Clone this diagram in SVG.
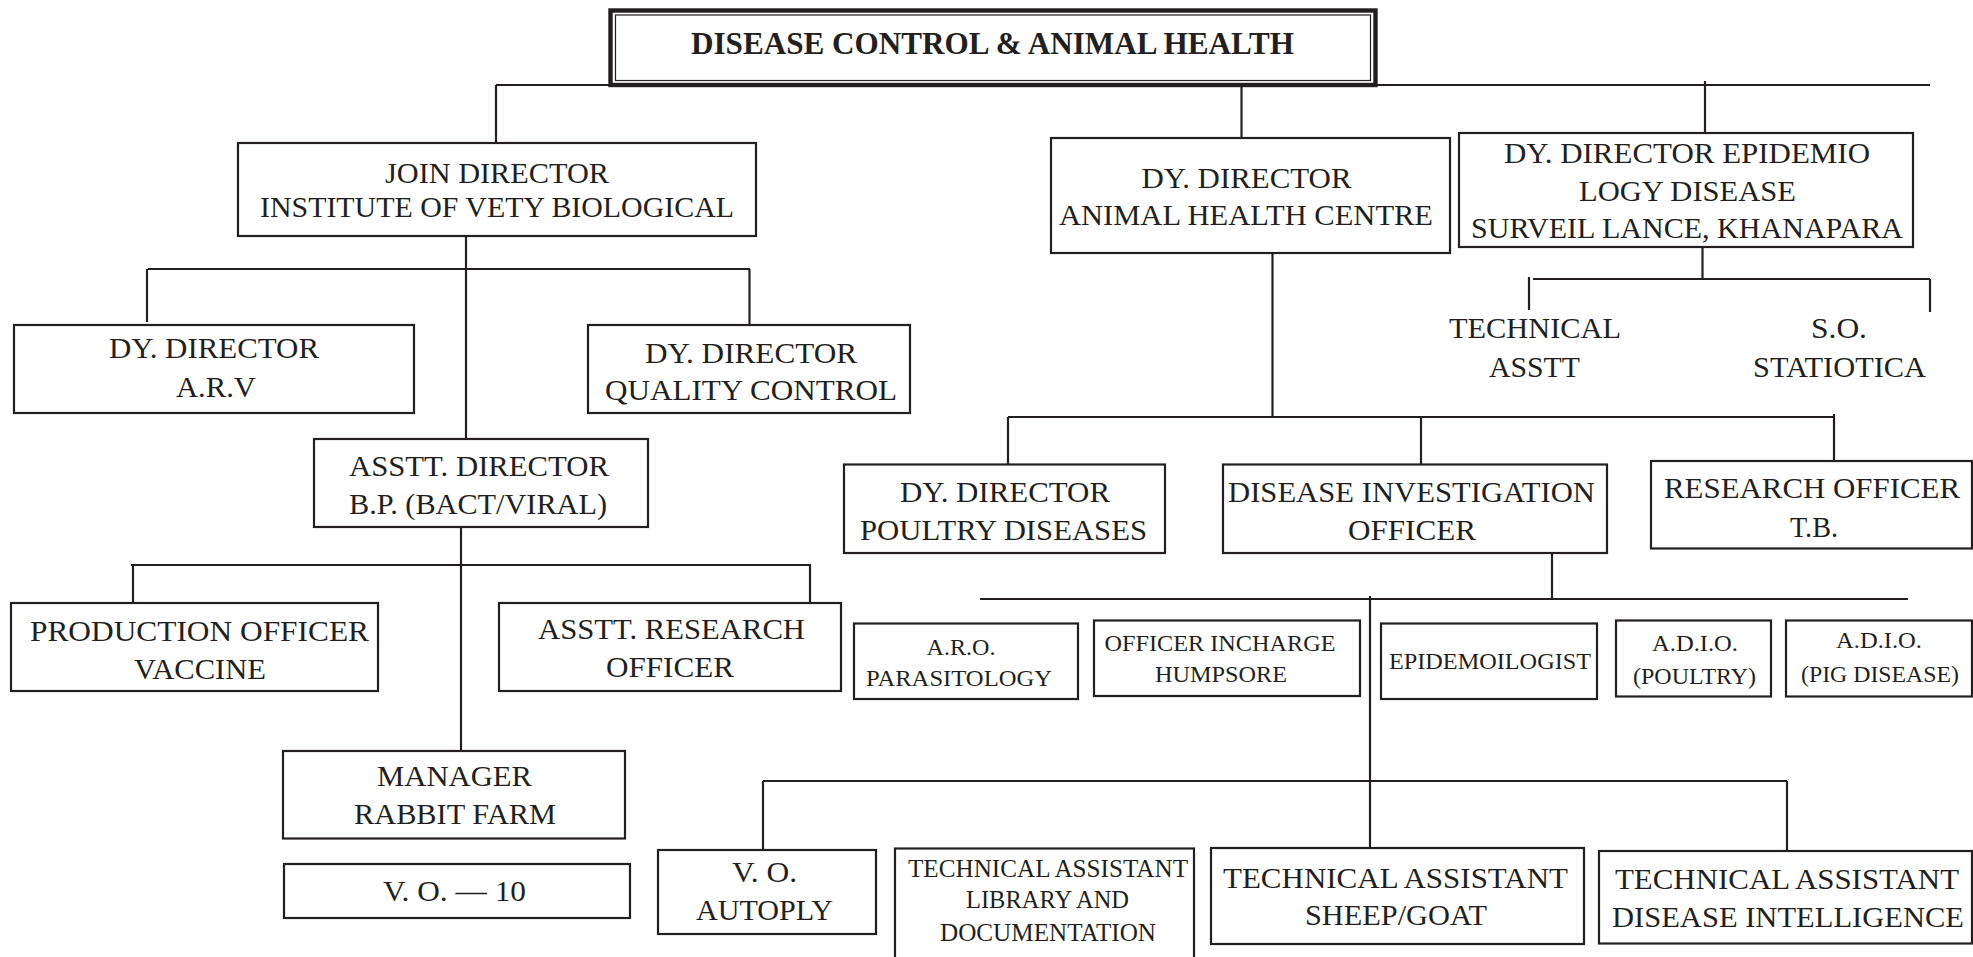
<svg xmlns="http://www.w3.org/2000/svg" width="1973" height="957" viewBox="0 0 1973 957">
<style>
.node rect { fill:#ffffff; stroke:#231f20; stroke-width:2.2; }
text { font-family:"Liberation Serif","Times New Roman",serif; font-size:30px; fill:#231f20; text-anchor:middle; }
text.sm { font-size:24px; }
text.md { font-size:25px; }
text.title { font-size:31px; font-weight:bold; }
#connectors path { stroke:#231f20; stroke-width:2.2; fill:none; }
</style>
<rect x="0" y="0" width="1973" height="957" fill="#ffffff"/>
<g id="connectors">
<path d="M496 85 H1930"/>
<path d="M496 85 V143"/>
<path d="M1241.5 86 V138"/>
<path d="M1705 81 V133"/>
<path d="M466 236 V439"/>
<path d="M148 269 H750"/>
<path d="M147 269 V322"/>
<path d="M749.5 269 V325"/>
<path d="M461 527 V751"/>
<path d="M131 565 H811"/>
<path d="M133 565 V603"/>
<path d="M810 565 V603"/>
<path d="M1272.5 253 V417"/>
<path d="M1008 417 H1835"/>
<path d="M1834 414 V461"/>
<path d="M1008 417 V464.5"/>
<path d="M1421 417 V464.5"/>
<path d="M1702.5 247 V279"/>
<path d="M1533 279 H1930"/>
<path d="M1529 277 V310"/>
<path d="M1930 279 V312"/>
<path d="M1552 553 V599"/>
<path d="M980 599 H1908"/>
<path d="M1370 596 V848"/>
<path d="M763 781 H1787"/>
<path d="M763 781 V850"/>
<path d="M1787 781 V851"/>
</g>
<g id="n-title" class="node">
<rect x="610.5" y="10.5" width="765" height="74.5" style="stroke-width:4.4"/>
<rect x="615.5" y="15" width="755" height="65.5" style="stroke-width:1.2"/>
<text class="title" x="992.5" y="54" textLength="603" lengthAdjust="spacingAndGlyphs">DISEASE CONTROL &amp; ANIMAL HEALTH</text>
</g>
<g id="n-join" class="node">
<rect x="238" y="143" width="518" height="93"/>
<text x="497" y="183" textLength="224" lengthAdjust="spacingAndGlyphs">JOIN DIRECTOR</text>
<text x="497" y="217" textLength="474" lengthAdjust="spacingAndGlyphs">INSTITUTE OF VETY BIOLOGICAL</text>
</g>
<g id="n-arv" class="node">
<rect x="14" y="325" width="400" height="88"/>
<text x="214" y="358" textLength="210" lengthAdjust="spacingAndGlyphs">DY. DIRECTOR</text>
<text x="216" y="397" textLength="80" lengthAdjust="spacingAndGlyphs">A.R.V</text>
</g>
<g id="n-qc" class="node">
<rect x="588" y="325" width="322" height="88"/>
<text x="751" y="363" textLength="212" lengthAdjust="spacingAndGlyphs">DY. DIRECTOR</text>
<text x="751" y="400" textLength="292" lengthAdjust="spacingAndGlyphs">QUALITY CONTROL</text>
</g>
<g id="n-asstdir" class="node">
<rect x="314" y="439" width="334" height="88"/>
<text x="479" y="476" textLength="260" lengthAdjust="spacingAndGlyphs">ASSTT. DIRECTOR</text>
<text x="478" y="514" textLength="258" lengthAdjust="spacingAndGlyphs">B.P. (BACT/VIRAL)</text>
</g>
<g id="n-prod" class="node">
<rect x="11" y="603" width="367" height="88"/>
<text x="199.5" y="641" textLength="339" lengthAdjust="spacingAndGlyphs">PRODUCTION OFFICER</text>
<text x="200" y="679" textLength="132" lengthAdjust="spacingAndGlyphs">VACCINE</text>
</g>
<g id="n-asstres" class="node">
<rect x="499" y="603" width="342" height="88"/>
<text x="671.5" y="638.5" textLength="267" lengthAdjust="spacingAndGlyphs">ASSTT. RESEARCH</text>
<text x="670" y="677" textLength="128" lengthAdjust="spacingAndGlyphs">OFFICER</text>
</g>
<g id="n-manager" class="node">
<rect x="283" y="751" width="342" height="87.5"/>
<text x="454.5" y="786" textLength="155" lengthAdjust="spacingAndGlyphs">MANAGER</text>
<text x="455" y="824" textLength="202" lengthAdjust="spacingAndGlyphs">RABBIT FARM</text>
</g>
<g id="n-vo10" class="node">
<rect x="284" y="864" width="346" height="54"/>
<text x="454.5" y="901" textLength="143" lengthAdjust="spacingAndGlyphs">V. O. — 10</text>
</g>
<g id="n-ahc" class="node">
<rect x="1051" y="138" width="399" height="115"/>
<text x="1246.5" y="188" textLength="210" lengthAdjust="spacingAndGlyphs">DY. DIRECTOR</text>
<text x="1246" y="225" textLength="374" lengthAdjust="spacingAndGlyphs">ANIMAL HEALTH CENTRE</text>
</g>
<g id="n-epi" class="node">
<rect x="1459" y="133" width="454" height="114"/>
<text x="1687" y="163" textLength="366" lengthAdjust="spacingAndGlyphs">DY. DIRECTOR EPIDEMIO</text>
<text x="1687.5" y="201" textLength="217" lengthAdjust="spacingAndGlyphs">LOGY DISEASE</text>
<text x="1687" y="238" textLength="432" lengthAdjust="spacingAndGlyphs">SURVEIL  LANCE,  KHANAPARA</text>
</g>
<g id="n-techasstt" class="node">
<text x="1535" y="338" textLength="172" lengthAdjust="spacingAndGlyphs">TECHNICAL</text>
<text x="1534.5" y="377" textLength="91" lengthAdjust="spacingAndGlyphs">ASSTT</text>
</g>
<g id="n-so" class="node">
<text x="1839" y="338" textLength="56" lengthAdjust="spacingAndGlyphs">S.O.</text>
<text x="1839.5" y="377" textLength="173" lengthAdjust="spacingAndGlyphs">STATIOTICA</text>
</g>
<g id="n-poultry" class="node">
<rect x="844" y="464.5" width="321" height="88.5"/>
<text x="1005" y="501.5" textLength="210" lengthAdjust="spacingAndGlyphs">DY. DIRECTOR</text>
<text x="1003.5" y="540" textLength="287" lengthAdjust="spacingAndGlyphs">POULTRY DISEASES</text>
</g>
<g id="n-dio" class="node">
<rect x="1223" y="464.5" width="384" height="88.5"/>
<text x="1411.5" y="501.5" textLength="367" lengthAdjust="spacingAndGlyphs">DISEASE INVESTIGATION</text>
<text x="1412" y="540" textLength="128" lengthAdjust="spacingAndGlyphs">OFFICER</text>
</g>
<g id="n-rotb" class="node">
<rect x="1651" y="461" width="321" height="87.5"/>
<text x="1812" y="498" textLength="296" lengthAdjust="spacingAndGlyphs">RESEARCH OFFICER</text>
<text x="1814" y="536.5" textLength="48" lengthAdjust="spacingAndGlyphs">T.B.</text>
</g>
<g id="n-aro" class="node">
<rect x="854" y="623.5" width="224" height="75.5"/>
<text class="sm" x="961" y="655" textLength="69" lengthAdjust="spacingAndGlyphs">A.R.O.</text>
<text class="sm" x="959" y="686" textLength="186" lengthAdjust="spacingAndGlyphs">PARASITOLOGY</text>
</g>
<g id="n-oic" class="node">
<rect x="1094" y="620.5" width="266" height="75.5"/>
<text class="sm" x="1220" y="650.5" textLength="231" lengthAdjust="spacingAndGlyphs">OFFICER INCHARGE</text>
<text class="sm" x="1221" y="682" textLength="132" lengthAdjust="spacingAndGlyphs">HUMPSORE</text>
</g>
<g id="n-epid" class="node">
<rect x="1381" y="623.5" width="216" height="75.5"/>
<text class="sm" x="1490" y="669" textLength="202" lengthAdjust="spacingAndGlyphs">EPIDEMOILOGIST</text>
</g>
<g id="n-adiop" class="node">
<rect x="1616" y="620.5" width="155" height="76"/>
<text class="sm" x="1695" y="651" textLength="86" lengthAdjust="spacingAndGlyphs">A.D.I.O.</text>
<text class="sm" x="1694.5" y="683.5" textLength="123" lengthAdjust="spacingAndGlyphs">(POULTRY)</text>
</g>
<g id="n-adiopig" class="node">
<rect x="1786" y="620.5" width="186" height="76"/>
<text class="sm" x="1879" y="648" textLength="86" lengthAdjust="spacingAndGlyphs">A.D.I.O.</text>
<text class="sm" x="1880" y="681.5" textLength="158" lengthAdjust="spacingAndGlyphs">(PIG DISEASE)</text>
</g>
<g id="n-voaut" class="node">
<rect x="658" y="850" width="218" height="84"/>
<text x="764.5" y="882" textLength="65" lengthAdjust="spacingAndGlyphs">V. O.</text>
<text x="764.5" y="920" textLength="137" lengthAdjust="spacingAndGlyphs">AUTOPLY</text>
</g>
<g id="n-lib" class="node">
<rect x="895" y="848.5" width="299" height="130"/>
<text class="md" x="1048" y="877" textLength="280" lengthAdjust="spacingAndGlyphs">TECHNICAL ASSISTANT</text>
<text class="md" x="1047.5" y="908" textLength="163" lengthAdjust="spacingAndGlyphs">LIBRARY AND</text>
<text class="md" x="1048" y="940.5" textLength="216" lengthAdjust="spacingAndGlyphs">DOCUMENTATION</text>
</g>
<g id="n-sheep" class="node">
<rect x="1211" y="848" width="373" height="96"/>
<text x="1395.5" y="887.5" textLength="345" lengthAdjust="spacingAndGlyphs">TECHNICAL ASSISTANT</text>
<text x="1396" y="925" textLength="182" lengthAdjust="spacingAndGlyphs">SHEEP/GOAT</text>
</g>
<g id="n-intel" class="node">
<rect x="1599" y="851" width="373" height="92.5"/>
<text x="1787" y="889" textLength="344" lengthAdjust="spacingAndGlyphs">TECHNICAL ASSISTANT</text>
<text x="1788" y="927" textLength="352" lengthAdjust="spacingAndGlyphs">DISEASE INTELLIGENCE</text>
</g>
</svg>
